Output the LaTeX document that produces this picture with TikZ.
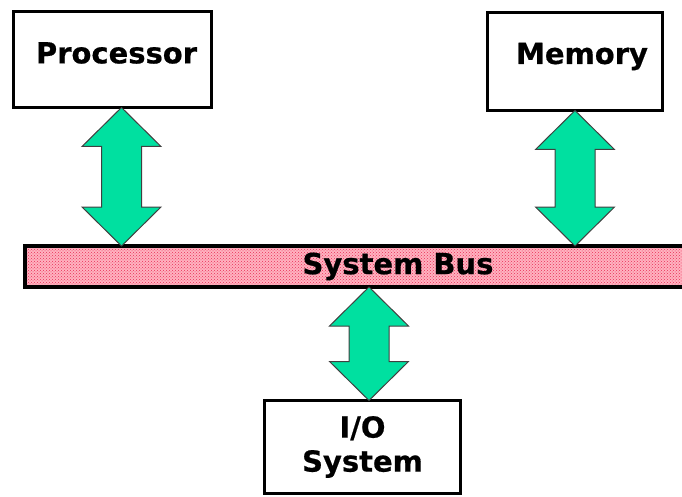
\documentclass[tikz,border=0pt]{standalone}
\usepackage{fontspec}
\setmainfont{DejaVu Sans}[BoldFeatures={FakeBold=0.6}]
\usetikzlibrary{calc,patterns}
\definecolor{linkgreen}{RGB}{0,224,160}
\definecolor{buspink}{RGB}{255,178,192}
\definecolor{busred}{RGB}{232,48,88}

% fat two-headed arrow between two points stacked vertically (#1 above #2)
\newcommand\fatlink[2]{%
  \draw[link] let \p1=(#1), \p2=(#2) in
    (\x1,\y1) -- (\x1+39.5pt,\y1-39pt) -- (\x1+20pt,\y1-39pt)
    -- (\x1+20pt,\y2+39pt) -- (\x1+39.5pt,\y2+39pt) -- (\x1,\y2)
    -- (\x1-39.5pt,\y2+39pt) -- (\x1-20pt,\y2+39pt)
    -- (\x1-20pt,\y1-39pt) -- (\x1-39.5pt,\y1-39pt) -- cycle;}

\begin{document}
\begin{tikzpicture}[x=1pt,y=-1pt,font=\fontsize{29}{34}\selectfont\bfseries,
  unit/.style={draw=black,line width=3pt,fill=white,inner sep=0pt,outer sep=0pt},
  busbar/.style={draw=black,line width=4.5pt,preaction={fill=buspink},
    pattern=crosshatch dots,pattern color=busred,
    minimum width=746pt,minimum height=41pt,inner sep=0pt,outer sep=0pt},
  link/.style={fill=linkgreen,draw=black!75,line width=1pt,line join=miter}]
\clip (0,0) rectangle (682,497);

% units and the bus
\node[unit,minimum width=198pt,minimum height=96pt,
  label={[xshift=4pt,yshift=6.5pt]center:Processor}] (proc) at (112.5,59.5) {};
\node[unit,minimum width=175pt,minimum height=98pt,
  label={[xshift=7pt,yshift=5pt]center:Memory}] (mem) at (575,61.5) {};
\node[unit,minimum width=196pt,minimum height=93pt,align=center] (io) at (362.5,447) {I/O\\System};
\node[busbar] (bus) at (398,266.5) {System Bus};

% links to the bus
\coordinate (proc-out) at ([xshift=9pt]proc.south);
\coordinate (proc-in) at (proc-out |- bus.north);
\coordinate (mem-in) at (mem.south |- bus.north);
\coordinate (io-out) at ([xshift=6.5pt]io.north);
\coordinate (io-in) at (io-out |- bus.south);
\fatlink{proc-out}{proc-in}
\fatlink{mem.south}{mem-in}
\fatlink{io-in}{io-out}
\end{tikzpicture}
\end{document}
